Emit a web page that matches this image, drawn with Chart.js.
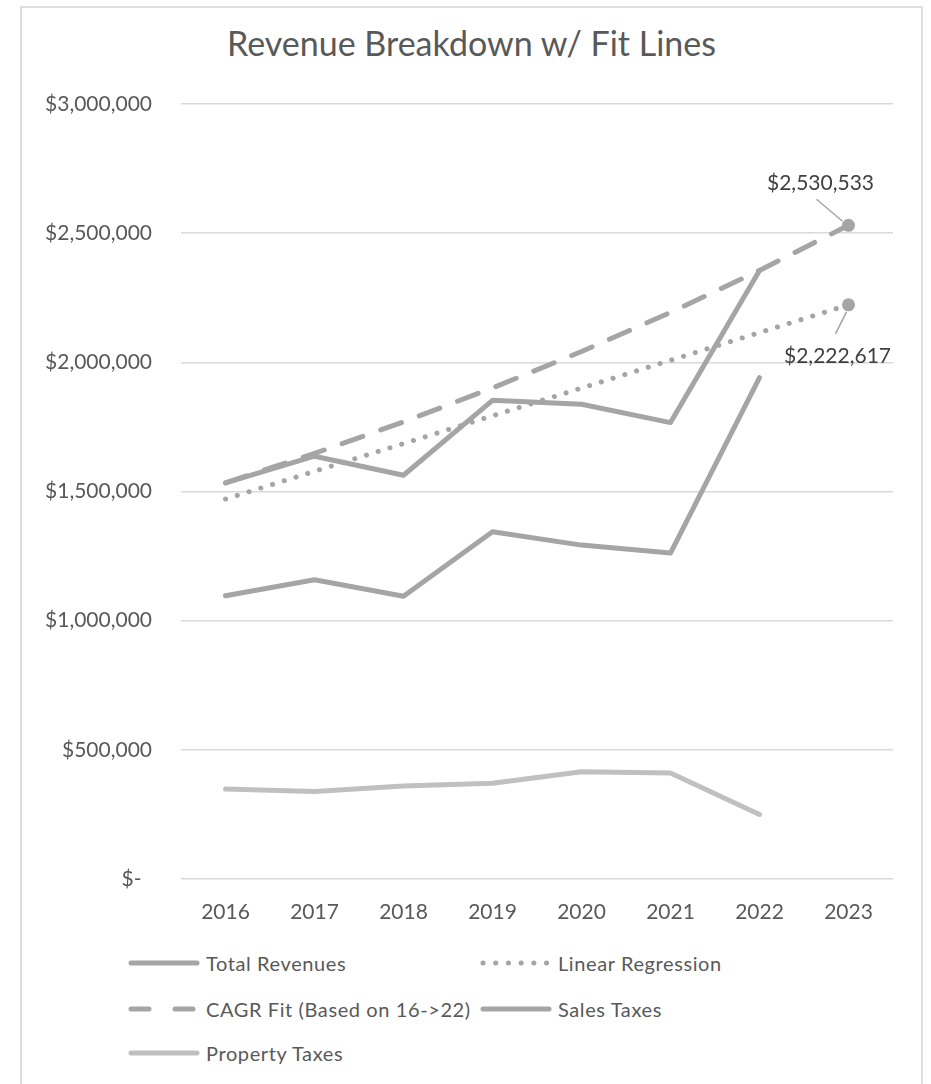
<!DOCTYPE html>
<html>
<head>
<meta charset="utf-8">
<script src="https://cdn.jsdelivr.net/npm/chart.js@4.4.1/dist/chart.umd.min.js"></script>
<style>
  html, body { margin: 0; padding: 0; background: #ffffff; }
  body { width: 931px; height: 1084px; position: relative; overflow: hidden; font-family: Lato, "Open Sans", sans-serif; }
  #frame { position: absolute; left: 20px; top: 6px; width: 903px; height: 1100px; border: 2px solid #dedede; box-sizing: border-box; }
  #title { position: absolute; left: 0; width: 943px; top: 23px; line-height: 40px; text-align: center; font-size: 34px; color: #595959; white-space: nowrap; }
  #chartWrap { position: absolute; left: 0; top: 0; width: 931px; height: 939px; }
  .lg { position: absolute; height: 24px; display: flex; align-items: center; font-size: 20px; letter-spacing: 0.6px; color: #595959; white-space: nowrap; }
  .lg svg { margin-right: 6px; flex: none; }
</style>
</head>
<body>
<div id="frame"></div>
<div id="title">Revenue Breakdown w/ Fit Lines</div>
<div id="chartWrap"><canvas id="c" width="931" height="939"></canvas></div>
<div id="legend"></div>
<script>
// ---- data ----
const years = ['2016', '2017', '2018', '2019', '2020', '2021', '2022', '2023'];
const totalRevenues    = [1533600, 1636600, 1563000, 1853000, 1837600, 1766800, 2355900, null];
const linearRegression = [1470800, 1578200, 1685600, 1793000, 1900400, 2007800, 2115200, 2222617];
const cagrFit          = [1533600, 1647350, 1769530, 1900780, 2041760, 2193200, 2355870, 2530533];
const salesTaxes       = [1096600, 1158500, 1094500, 1344000, 1292500, 1261600, 1940700, null];
const propertyTaxes    = [348000, 339000, 360000, 371000, 415000, 410000, 250000, null];
const seriesNames = ['Total Revenues', 'Linear Regression', 'CAGR Fit (Based on 16->22)', 'Sales Taxes', 'Property Taxes'];
const yTicks = [0, 500000, 1000000, 1500000, 2000000, 2500000, 3000000];

const GRAY = '#a5a5a5';
const LIGHT = '#c0c0c0';
const FONT = 'Lato, "Open Sans", sans-serif';

function endMarker(n) { return years.map((_, i) => i === n ? 6.5 : 0); }

const datasets = [
  { label: seriesNames[0], data: totalRevenues, borderColor: GRAY, borderWidth: 5, pointRadius: 0, order: 5 },
  { label: seriesNames[1], data: linearRegression, borderColor: GRAY, borderWidth: 5, borderDash: [0.1, 12.2],
    pointRadius: endMarker(7), pointBackgroundColor: GRAY, pointBorderWidth: 0, order: 4 },
  { label: seriesNames[2], data: cagrFit, borderColor: GRAY, borderWidth: 5, borderDash: [22, 19],
    pointRadius: endMarker(7), pointBackgroundColor: GRAY, pointBorderWidth: 0, order: 3 },
  { label: seriesNames[3], data: salesTaxes, borderColor: GRAY, borderWidth: 5, pointRadius: 0, order: 2 },
  { label: seriesNames[4], data: propertyTaxes, borderColor: LIGHT, borderWidth: 5, pointRadius: 0, order: 1 }
];
datasets.forEach(d => { d.borderCapStyle = 'round'; d.borderJoinStyle = 'round'; d.tension = 0; d.fill = false; d.pointHoverRadius = 0; });

const fitLabels = {
  id: 'fitLabels',
  afterDatasetsDraw(chart, args, opts) {
    const ctx = chart.ctx;
    opts.items.forEach(it => {
      const pt = chart.getDatasetMeta(it.dataset).data[it.index];
      const v = chart.data.datasets[it.dataset].data[it.index];
      ctx.save();
      ctx.strokeStyle = GRAY; ctx.lineWidth = 1.5;
      ctx.beginPath();
      ctx.moveTo(pt.x + it.from[0], pt.y + it.from[1]);
      ctx.lineTo(pt.x + it.to[0], pt.y + it.to[1]);
      ctx.stroke();
      ctx.font = '21px ' + FONT;
      ctx.fillStyle = '#404040';
      ctx.textAlign = 'center'; ctx.textBaseline = 'middle';
      ctx.fillText('$' + Math.round(v).toLocaleString('en-US'), pt.x + it.text[0], pt.y + it.text[1]);
      ctx.restore();
    });
  }
};

function build() {
  new Chart(document.getElementById('c'), {
    type: 'line',
    data: { labels: years, datasets: datasets },
    plugins: [fitLabels],
    options: {
      responsive: false,
      animation: false,
      events: [],
      layout: { padding: { top: 104, right: 38, left: 0, bottom: 0 } },
      plugins: {
        legend: { display: false },
        title: { display: false },
        tooltip: { enabled: false },
        fitLabels: { items: [
          { dataset: 2, index: 7, text: [-28, -42], from: [-32, -26], to: [-6, -4] },
          { dataset: 1, index: 7, text: [-11, 51], from: [-2, 7], to: [-13, 29] }
        ] }
      },
      scales: {
        x: {
          offset: true,
          grid: { display: false, drawTicks: false },
          border: { display: false },
          ticks: { color: '#595959', font: { family: FONT, size: 21 }, padding: 21, maxRotation: 0, autoSkip: false },
          afterFit(s) { s.height = 60; }
        },
        y: {
          min: 0, max: 3000000,
          afterBuildTicks(s) { s.ticks = yTicks.map(v => ({ value: v })); },
          grid: { color: '#d9d9d9', lineWidth: 1.5, drawTicks: false },
          border: { display: false },
          ticks: {
            color: '#595959', font: { family: FONT, size: 21 }, padding: 29,
            callback: v => v === 0 ? '$-\u2002' : '$' + v.toLocaleString('en-US')
          },
          afterFit(s) { s.width = 181; }
        }
      }
    }
  });

  // legend (HTML, built from the datasets)
  const slots = [
    { x: 128, y: 951 }, { x: 480, y: 951 },
    { x: 128, y: 997 }, { x: 480, y: 997 },
    { x: 128, y: 1041 }
  ];
  const lg = document.getElementById('legend');
  datasets.forEach((d, i) => {
    const s = slots[i];
    const div = document.createElement('div');
    div.className = 'lg';
    div.style.left = s.x + 'px';
    div.style.top = s.y + 'px';
    let dash = '';
    if (i === 1) dash = 'stroke-dasharray="0.1 12.6"';
    if (i === 2) dash = 'stroke-dasharray="18 26"';
    div.innerHTML = '<svg width="72" height="10"><line x1="3" y1="5" x2="69" y2="5" stroke="' + d.borderColor +
      '" stroke-width="5" stroke-linecap="round" ' + dash + '/></svg><span>' +
      d.label.replace(/&/g, '&amp;').replace(/</g, '&lt;').replace(/>/g, '&gt;') + '</span>';
    lg.appendChild(div);
  });
}

if (document.fonts && document.fonts.load) {
  Promise.all([document.fonts.load('21px Lato'), document.fonts.load('34px Lato')]).then(build, build);
} else { build(); }
</script>
</body>
</html>
